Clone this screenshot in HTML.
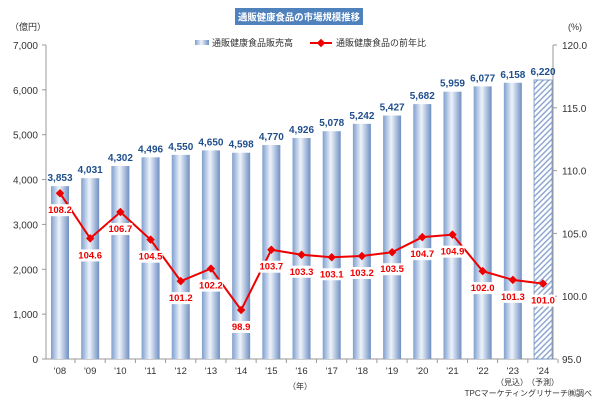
<!DOCTYPE html>
<html><head><meta charset="utf-8"><style>
body{margin:0;background:#fff;}
svg{display:block;font-family:"Liberation Sans","Noto Sans CJK JP",sans-serif;}
</style></head><body>
<svg id="c" width="600" height="400" viewBox="0 0 600 400" xmlns="http://www.w3.org/2000/svg">
<defs>
<linearGradient id="g" x1="0" x2="1" y1="0" y2="0">
<stop offset="0" stop-color="#7f9fcf"/><stop offset="0.45" stop-color="#eef3fa"/><stop offset="1" stop-color="#6f8fc2"/>
</linearGradient>
<pattern id="h" width="4" height="4" patternUnits="userSpaceOnUse" patternTransform="rotate(45)">
<rect width="4" height="4" fill="#fff"/><rect width="1.5" height="4" fill="#8fa9d2"/>
</pattern>
</defs>
<rect x="235" y="8" width="128" height="17" fill="#4f81bd"/>
<text x="299" y="20.5" font-size="9.5" font-weight="bold" fill="#fff" text-anchor="middle" textLength="122" lengthAdjust="spacingAndGlyphs">通販健康食品の市場規模推移</text>
<text x="10" y="30" font-size="9" fill="#333">（億円）</text>
<text x="568" y="30" font-size="9" fill="#333">(%)</text>
<rect x="195" y="40" width="14" height="5" fill="url(#g)"/>
<text x="212" y="46" font-size="9" fill="#333">通販健康食品販売高</text>
<line x1="310" y1="43" x2="332" y2="43" stroke="#e00" stroke-width="2"/>
<rect x="318" y="40" width="6" height="6" fill="#e00" transform="rotate(45 321 43)"/>
<text x="336" y="46" font-size="9" fill="#333">通販健康食品の前年比</text>
<g id="d"></g>
</svg>
<script>
const d=document.getElementById('d');let s='';
const bars=[3853,4031,4302,4496,4550,4650,4598,4770,4926,5078,5242,5427,5682,5959,6077,6158,6220];
const rates=[108.2,104.6,106.7,104.5,101.2,102.2,98.9,103.7,103.3,103.1,103.2,103.5,104.7,104.9,102.0,101.3,101.0];
const yl=v=>359-v*0.04486, yr=r=>359-(r-95)*12.56;
s+='<line x1="46" y1="45" x2="46" y2="359" stroke="#999"/><line x1="553" y1="45" x2="553" y2="359" stroke="#999"/><line x1="46" y1="359" x2="553" y2="359" stroke="#999"/>';
for(let i=0;i<=7;i++){const y=yl(i*1000);s+=`<line x1="42" y1="${y}" x2="46" y2="${y}" stroke="#999"/><text x="38" y="${y+4}" font-size="10" fill="#333" text-anchor="end">${(i*1000).toLocaleString('en-US')}</text>`;}
for(let i=0;i<=5;i++){const r=95+i*5,y=yr(r);s+=`<line x1="553" y1="${y}" x2="557" y2="${y}" stroke="#999"/><text x="562" y="${y+4}" font-size="10" fill="#333">${r.toFixed(1)}</text>`;}
let pts=[];
bars.forEach((v,i)=>{const x=60+i*30.19,t=yl(v);
 if(i<16)s+=`<rect x="${x-9}" y="${t}" width="18" height="${359-t}" fill="url(#g)"/>`;
 else s+=`<rect x="${x-9}" y="${t}" width="18" height="${359-t}" fill="url(#h)" stroke="#6f8fc2" stroke-width="0.8"/>`;
 s+=`<text x="${x}" y="${t-5}" font-size="10" font-weight="bold" fill="#1f4e8c" text-anchor="middle">${v.toLocaleString('en-US')}</text>`;
 s+=`<line x1="${x+15}" y1="359" x2="${x+15}" y2="363" stroke="#999"/>`;
 s+=`<text x="${x}" y="374" font-size="9.5" fill="#333" text-anchor="middle">'${String(8+i).padStart(2,'0')}</text>`;
 pts.push([x,yr(rates[i])]);});
s+=`<polyline points="${pts.map(p=>p.join(',')).join(' ')}" fill="none" stroke="#e00" stroke-width="2"/>`;
pts.forEach((p,i)=>{s+=`<rect x="${p[0]-3}" y="${p[1]-3}" width="6" height="6" fill="#e00" transform="rotate(45 ${p[0]} ${p[1]})"/>`;
 const ly=p[1]+20;s+=`<rect x="${p[0]-12}" y="${ly-9}" width="24" height="12" fill="#fff"/><text x="${p[0]}" y="${ly}" font-size="9.5" font-weight="bold" fill="#e00" text-anchor="middle">${rates[i].toFixed(1)}</text>`;});
s+='<text x="300" y="389" font-size="8" fill="#333" text-anchor="middle">（年）</text>';
s+='<text x="512" y="385" font-size="8" fill="#333" text-anchor="middle">（見込）</text><text x="543" y="385" font-size="8" fill="#333" text-anchor="middle">（予測）</text>';
s+='<text x="592" y="396" font-size="8" fill="#333" text-anchor="end">TPCマーケティングリサーチ㈱調べ</text>';
d.innerHTML=s;
</script>
</body></html>
